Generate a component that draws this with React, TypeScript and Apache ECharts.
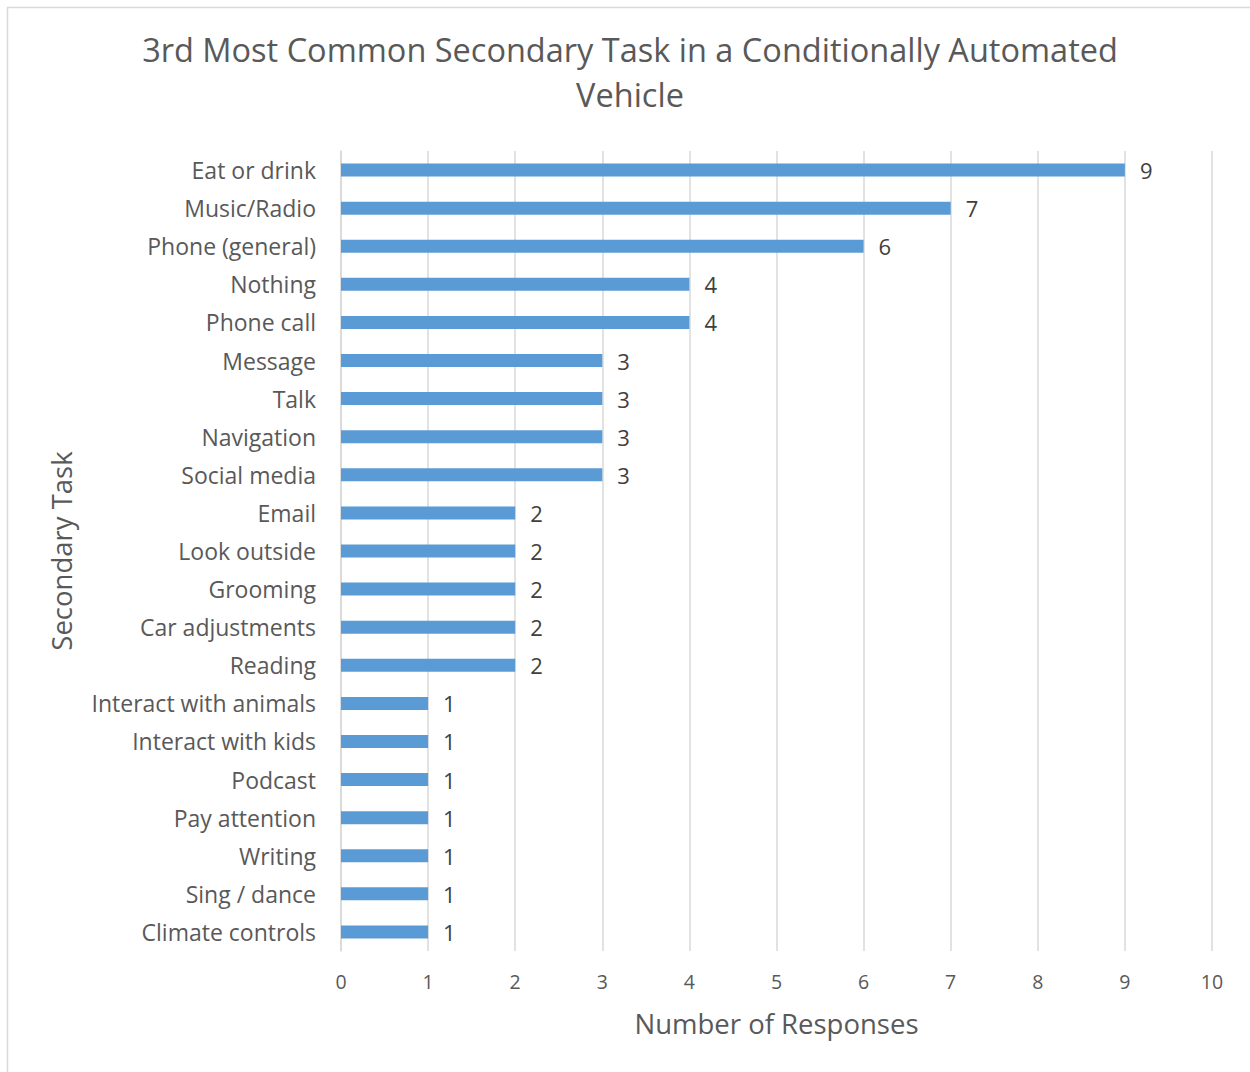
import React, { useEffect, useRef } from "react";
import * as echarts from "echarts";

const categories = [
  "Eat or drink",
  "Music/Radio",
  "Phone (general)",
  "Nothing",
  "Phone call",
  "Message",
  "Talk",
  "Navigation",
  "Social media",
  "Email",
  "Look outside",
  "Grooming",
  "Car adjustments",
  "Reading",
  "Interact with animals",
  "Interact with kids",
  "Podcast",
  "Pay attention",
  "Writing",
  "Sing / dance",
  "Climate controls",
];
const responses = [9, 7, 6, 4, 4, 3, 3, 3, 3, 2, 2, 2, 2, 2, 1, 1, 1, 1, 1, 1, 1];
const titleText = "3rd Most Common Secondary Task in a Conditionally Automated\nVehicle";
const xAxisName = "Number of Responses";
const yAxisName = "Secondary Task";

const FONT = "'Open Sans', Lato, sans-serif";

export default function App() {
  const ref = useRef<HTMLDivElement>(null);
  useEffect(() => {
    if (!ref.current) return;
    const chart = echarts.init(ref.current, undefined, { renderer: "svg" });
    chart.setOption({
      animation: false,
      backgroundColor: "#ffffff",
      textStyle: { fontFamily: FONT },
      graphic: [
        {
          type: "rect",
          shape: { x: 7.5, y: 7.5, width: 1300, height: 1100 },
          style: { fill: "none", stroke: "#d9d9d9", lineWidth: 1.5 },
          silent: true,
        },
      ],
      title: {
        text: titleText,
        left: 625,
        textAlign: "center",
        top: 22,
        textStyle: {
          fontFamily: FONT,
          fontSize: 32.5,
          fontWeight: "normal",
          color: "#595959",
          lineHeight: 45,
        },
      },
      grid: { left: 341, right: 38, top: 151, bottom: 121 },
      xAxis: {
        type: "value",
        min: 0,
        max: 10,
        interval: 1,
        name: xAxisName,
        nameLocation: "middle",
        nameGap: 58,
        nameTextStyle: { fontFamily: FONT, fontSize: 27.5, color: "#595959" },
        axisLine: { show: false },
        axisTick: { show: false },
        axisLabel: { fontFamily: FONT, fontSize: 19.5, color: "#595959", margin: 20 },
        splitLine: { show: true, lineStyle: { color: "#d9d9d9", width: 1.5 } },
      },
      yAxis: {
        type: "category",
        data: categories,
        inverse: true,
        name: yAxisName,
        nameLocation: "middle",
        nameGap: 266,
        nameRotate: 90,
        nameTextStyle: { fontFamily: FONT, fontSize: 27.5, color: "#595959" },
        axisLine: { show: true, lineStyle: { color: "#d9d9d9", width: 1.5 } },
        axisTick: { show: false },
        axisLabel: { fontFamily: FONT, fontSize: 23, color: "#595959", margin: 25 },
      },
      series: [
        {
          type: "bar",
          data: responses,
          barWidth: 13,
          itemStyle: { color: "#5B9BD5" },
          label: {
            show: true,
            position: "right",
            distance: 15,
            fontFamily: FONT,
            fontSize: 22,
            color: "#404040",
          },
        },
      ],
    });
    return () => chart.dispose();
  }, []);
  return (
    <div style={{ position: "fixed", left: 0, top: 0, width: 1250, height: 1072 }}>
      <div ref={ref} style={{ width: 1250, height: 1072 }} />
    </div>
  );
}
